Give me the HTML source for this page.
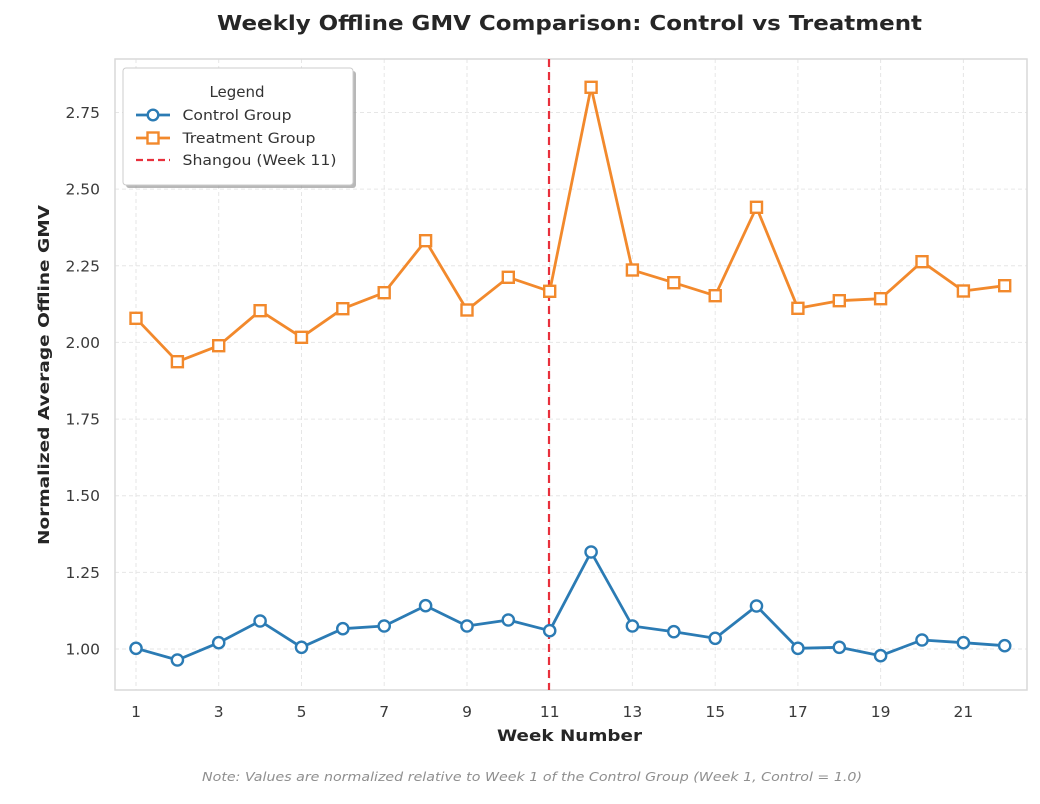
<!DOCTYPE html>
<html>
<head>
<meta charset="utf-8">
<style>
  html,body{margin:0;padding:0;background:#fff;}
  svg{display:block;}
  text{font-family:"DejaVu Sans","Liberation Sans",sans-serif;}
</style>
</head>
<body>
<svg width="1040" height="804" viewBox="0 0 1040 804" xmlns="http://www.w3.org/2000/svg">
  <rect x="0" y="0" width="1040" height="804" fill="#fff"/>
  <!-- Title -->
  <text x="569.5" y="30" font-size="20" font-weight="bold" fill="#262626" text-anchor="middle" textLength="705" lengthAdjust="spacingAndGlyphs">Weekly Offline GMV Comparison: Control vs Treatment</text>

  <!-- plot area -->
  <rect x="115" y="59" width="912" height="631" fill="#fff"/>
  <!-- grid -->
  <g stroke="#e6e6e6" stroke-width="1" stroke-dasharray="4,3">
    <line x1="115" x2="1027" y1="112.5" y2="112.5"/>
    <line x1="115" x2="1027" y1="189.1" y2="189.1"/>
    <line x1="115" x2="1027" y1="265.8" y2="265.8"/>
    <line x1="115" x2="1027" y1="342.4" y2="342.4"/>
    <line x1="115" x2="1027" y1="419.1" y2="419.1"/>
    <line x1="115" x2="1027" y1="495.7" y2="495.7"/>
    <line x1="115" x2="1027" y1="572.4" y2="572.4"/>
    <line x1="115" x2="1027" y1="649" y2="649"/>
    <line y1="59" y2="690" x1="136" x2="136"/>
    <line y1="59" y2="690" x1="218.7" x2="218.7"/>
    <line y1="59" y2="690" x1="301.5" x2="301.5"/>
    <line y1="59" y2="690" x1="384.2" x2="384.2"/>
    <line y1="59" y2="690" x1="467" x2="467"/>
    <line y1="59" y2="690" x1="549.7" x2="549.7"/>
    <line y1="59" y2="690" x1="632.4" x2="632.4"/>
    <line y1="59" y2="690" x1="715.2" x2="715.2"/>
    <line y1="59" y2="690" x1="797.9" x2="797.9"/>
    <line y1="59" y2="690" x1="880.6" x2="880.6"/>
    <line y1="59" y2="690" x1="963.4" x2="963.4"/>
  </g>
  <!-- spines -->
  <rect x="115" y="59" width="912" height="631" fill="none" stroke="#d9d9d9" stroke-width="1.5"/>

  <!-- y tick labels -->
  <g font-size="15.5" fill="#3a3a3a" text-anchor="end">
    <text x="100" y="118">2.75</text>
    <text x="100" y="194.6">2.50</text>
    <text x="100" y="271.3">2.25</text>
    <text x="100" y="347.9">2.00</text>
    <text x="100" y="424.6">1.75</text>
    <text x="100" y="501.2">1.50</text>
    <text x="100" y="577.9">1.25</text>
    <text x="100" y="654.5">1.00</text>
  </g>
  <!-- x tick labels -->
  <g font-size="15.5" fill="#3a3a3a" text-anchor="middle">
    <text x="136" y="717">1</text>
    <text x="218.7" y="717">3</text>
    <text x="301.5" y="717">5</text>
    <text x="384.2" y="717">7</text>
    <text x="467" y="717">9</text>
    <text x="549.7" y="717">11</text>
    <text x="632.4" y="717">13</text>
    <text x="715.2" y="717">15</text>
    <text x="797.9" y="717">17</text>
    <text x="880.6" y="717">19</text>
    <text x="963.4" y="717">21</text>
  </g>

  <!-- axis labels -->
  <text x="569.5" y="741" font-size="16" font-weight="bold" fill="#262626" text-anchor="middle" textLength="145" lengthAdjust="spacingAndGlyphs">Week Number</text>
  <text transform="translate(49,375) rotate(-90)" x="0" y="0" font-size="15.5" font-weight="bold" fill="#262626" text-anchor="middle" textLength="340" lengthAdjust="spacingAndGlyphs">Normalized Average Offline GMV</text>

  <!-- Shangou line -->
  <line x1="549" x2="549" y1="59" y2="690" stroke="#e8303c" stroke-width="2.2" stroke-dasharray="8,5"/>

  <!-- Treatment -->
  <polyline fill="none" stroke="#f2892c" stroke-width="2.8" stroke-linejoin="round"
    points="136,318.3 177.4,361.7 218.7,345.7 260.1,310.7 301.5,337.3 342.8,308.7 384.2,292.7 425.6,240.7 467,310 508.3,277.3 549.7,291.3 591.1,87.3 632.4,270 673.8,282.7 715.2,295.7 756.5,207.3 797.9,308.3 839.3,300.7 880.6,298.7 922,261.7 963.4,291 1004.7,285.7"/>
  <g fill="#fff" stroke="#f2892c" stroke-width="2.4">
    <rect x="130.5" y="312.8" width="11" height="11"/>
    <rect x="171.9" y="356.2" width="11" height="11"/>
    <rect x="213.2" y="340.2" width="11" height="11"/>
    <rect x="254.6" y="305.2" width="11" height="11"/>
    <rect x="296" y="331.8" width="11" height="11"/>
    <rect x="337.3" y="303.2" width="11" height="11"/>
    <rect x="378.7" y="287.2" width="11" height="11"/>
    <rect x="420.1" y="235.2" width="11" height="11"/>
    <rect x="461.5" y="304.5" width="11" height="11"/>
    <rect x="502.8" y="271.8" width="11" height="11"/>
    <rect x="544.2" y="285.8" width="11" height="11"/>
    <rect x="585.6" y="81.8" width="11" height="11"/>
    <rect x="626.9" y="264.5" width="11" height="11"/>
    <rect x="668.3" y="277.2" width="11" height="11"/>
    <rect x="709.7" y="290.2" width="11" height="11"/>
    <rect x="751" y="201.8" width="11" height="11"/>
    <rect x="792.4" y="302.8" width="11" height="11"/>
    <rect x="833.8" y="295.2" width="11" height="11"/>
    <rect x="875.1" y="293.2" width="11" height="11"/>
    <rect x="916.5" y="256.2" width="11" height="11"/>
    <rect x="957.9" y="285.5" width="11" height="11"/>
    <rect x="999.2" y="280.2" width="11" height="11"/>
  </g>

  <!-- Control -->
  <polyline fill="none" stroke="#2b7bb4" stroke-width="2.8" stroke-linejoin="round"
    points="136,648.3 177.4,660 218.7,642.7 260.1,621 301.5,647.3 342.8,628.7 384.2,626 425.6,605.7 467,626 508.3,620 549.7,630.7 591.1,552 632.4,626 673.8,631.7 715.2,638.3 756.5,606 797.9,648.3 839.3,647.3 880.6,655.7 922,640 963.4,642.7 1004.7,645.7"/>
  <g fill="#fff" stroke="#2b7bb4" stroke-width="2.4">
    <circle cx="136" cy="648.3" r="5.6"/>
    <circle cx="177.4" cy="660" r="5.6"/>
    <circle cx="218.7" cy="642.7" r="5.6"/>
    <circle cx="260.1" cy="621" r="5.6"/>
    <circle cx="301.5" cy="647.3" r="5.6"/>
    <circle cx="342.8" cy="628.7" r="5.6"/>
    <circle cx="384.2" cy="626" r="5.6"/>
    <circle cx="425.6" cy="605.7" r="5.6"/>
    <circle cx="467" cy="626" r="5.6"/>
    <circle cx="508.3" cy="620" r="5.6"/>
    <circle cx="549.7" cy="630.7" r="5.6"/>
    <circle cx="591.1" cy="552" r="5.6"/>
    <circle cx="632.4" cy="626" r="5.6"/>
    <circle cx="673.8" cy="631.7" r="5.6"/>
    <circle cx="715.2" cy="638.3" r="5.6"/>
    <circle cx="756.5" cy="606" r="5.6"/>
    <circle cx="797.9" cy="648.3" r="5.6"/>
    <circle cx="839.3" cy="647.3" r="5.6"/>
    <circle cx="880.6" cy="655.7" r="5.6"/>
    <circle cx="922" cy="640" r="5.6"/>
    <circle cx="963.4" cy="642.7" r="5.6"/>
    <circle cx="1004.7" cy="645.7" r="5.6"/>
  </g>

  <!-- Legend -->
  <rect x="126" y="71" width="230" height="117" rx="3" fill="#9a9a9a" opacity="0.7"/>
  <rect x="123" y="68" width="230" height="117" rx="3" fill="#fff" stroke="#cccccc" stroke-width="1"/>
  <text x="237" y="97" font-size="15" fill="#333" text-anchor="middle">Legend</text>
  <line x1="136" x2="170" y1="115" y2="115" stroke="#2b7bb4" stroke-width="2.8"/>
  <circle cx="153" cy="115" r="5.3" fill="#fff" stroke="#2b7bb4" stroke-width="2.4"/>
  <text x="182.5" y="120" font-size="14" fill="#333" textLength="109" lengthAdjust="spacingAndGlyphs">Control Group</text>
  <line x1="136" x2="170" y1="138" y2="138" stroke="#f2892c" stroke-width="2.8"/>
  <rect x="147.5" y="132.5" width="11" height="11" fill="#fff" stroke="#f2892c" stroke-width="2.4"/>
  <text x="182.5" y="143" font-size="14" fill="#333" textLength="133" lengthAdjust="spacingAndGlyphs">Treatment Group</text>
  <line x1="136" x2="170" y1="160" y2="160" stroke="#e8303c" stroke-width="2.2" stroke-dasharray="7,4"/>
  <text x="182.5" y="165" font-size="14" fill="#333" textLength="154" lengthAdjust="spacingAndGlyphs">Shangou (Week 11)</text>

  <!-- Note -->
  <text x="532" y="781" font-size="12.5" font-style="italic" fill="#8f8f8f" text-anchor="middle" textLength="660" lengthAdjust="spacingAndGlyphs">Note: Values are normalized relative to Week 1 of the Control Group (Week 1, Control = 1.0)</text>
</svg>
</body>
</html>
